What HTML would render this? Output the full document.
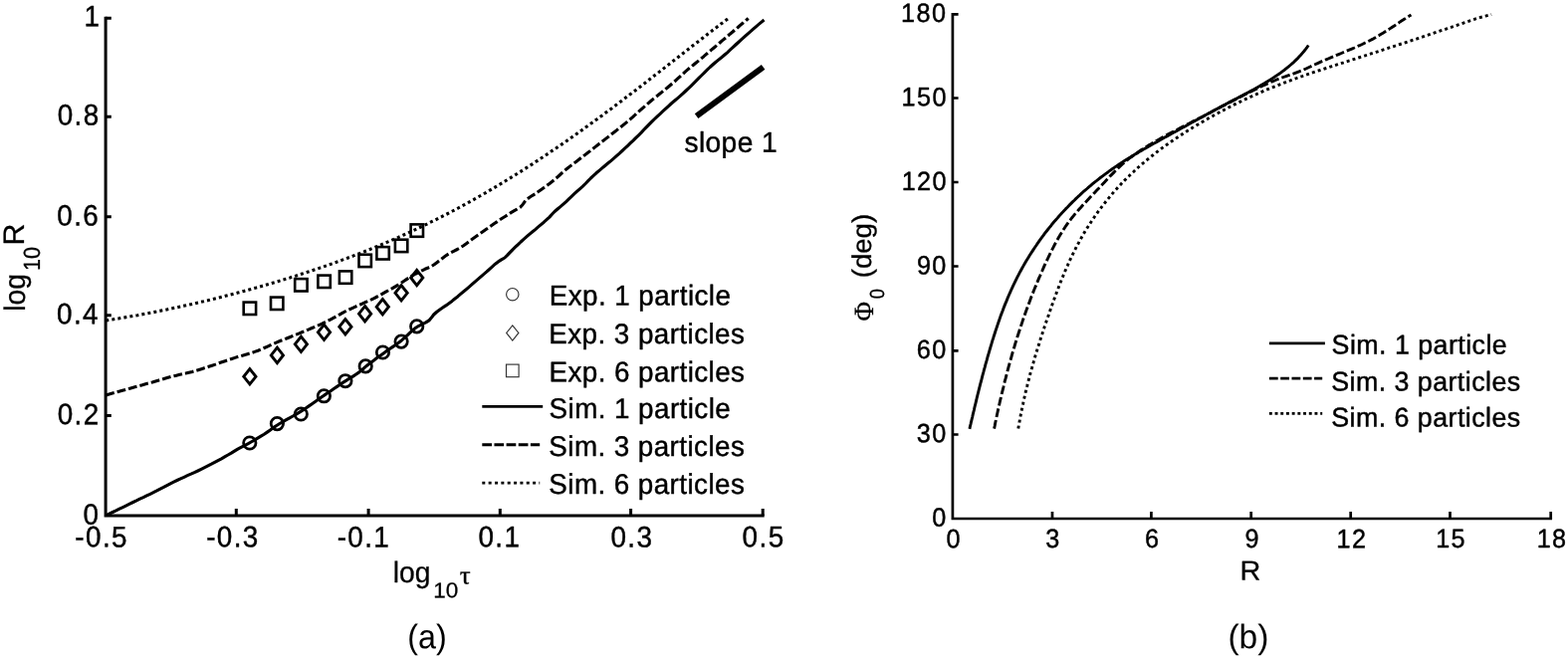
<!DOCTYPE html>
<html lang="en">
<head>
<meta charset="utf-8">
<title>Figure: log R versus log tau (a) and Phi0 versus R (b)</title>
<style>
html,body{margin:0;padding:0;background:#fff;}
body{width:1575px;height:662px;overflow:hidden;}
svg{display:block;filter:blur(0.45px);}
text{font-family:"Liberation Sans",sans-serif;fill:#000;stroke:#000;stroke-linejoin:round;text-rendering:geometricPrecision;}
text.ser{font-family:"Liberation Serif","DejaVu Serif",serif;}
.ax{stroke:#000;stroke-width:3.0;fill:none;stroke-linecap:butt;}
.cv{stroke:#000;stroke-width:3.1;fill:none;stroke-linejoin:round;}
.mk{stroke:#000;stroke-width:2.6;fill:none;stroke-linejoin:miter;}
.lm{stroke:#333;stroke-width:1.15;fill:none;}
</style>
</head>
<body>
<svg width="1575" height="662" viewBox="0 0 1575 662" role="img" aria-label="Two-panel line chart">
<rect x="0" y="0" width="1575" height="662" fill="#fff"/>
<g id="left-plot">
<path class="ax" style="stroke-width:3.0" d="M106.1,16.80 V519.60 M104.60,518.1 H767.70"/>
<path class="ax" style="stroke-width:3.0" d="M106.1,417.40 h5.7M106.1,316.80 h5.7M106.1,217.70 h5.7M106.1,117.30 h5.7M106.1,18.30 h5.7M237.30,518.1 v-7.1M370.10,518.1 v-7.1M502.30,518.1 v-7.1M633.60,518.1 v-7.1M766.20,518.1 v-7.1"/>
<path class="cv" d="M106.3,517.8 L109.7,516.2 L113.2,514.5 L116.6,512.9 L120.0,511.2 L123.4,509.6 L126.9,507.9 L130.3,506.2 L133.7,504.5 L137.1,502.9 L140.5,501.2 L144.0,499.6 L147.4,497.9 L150.8,496.3 L154.2,494.6 L157.6,492.9 L161.0,491.1 L164.4,489.4 L167.8,487.6 L171.1,485.8 L174.5,484.1 L177.9,482.5 L181.4,480.9 L184.9,479.3 L188.3,477.7 L191.8,476.2 L195.3,474.6 L198.7,473.0 L202.1,471.3 L205.5,469.6 L208.9,467.9 L212.3,466.2 L215.7,464.4 L219.0,462.6 L222.4,460.8 L225.7,458.9 L229.0,457.0 L232.3,455.1 L235.5,453.1 L238.8,451.1 L242.1,449.3 L245.5,447.6 L248.9,445.9 L252.2,444.0 L255.5,442.2 L258.8,440.2 L262.1,438.2 L265.3,436.2 L268.4,434.1 L271.5,431.9 L274.6,429.6 L277.8,427.5 L281.0,425.5 L284.3,423.6 L287.6,421.7 L290.9,419.8 L294.2,418.0 L297.5,416.1 L300.8,414.1 L304.0,412.1 L307.2,410.0 L310.3,407.9 L313.4,405.7 L316.6,403.5 L319.7,401.3 L322.8,399.1 L325.9,396.9 L329.1,394.8 L332.2,392.7 L335.3,390.5 L338.5,388.4 L341.7,386.3 L344.8,384.1 L348.0,382.1 L351.2,380.0 L354.5,378.1 L357.7,376.0 L360.8,373.9 L363.8,371.5 L366.6,368.9 L369.5,366.5 L372.5,364.2 L375.6,361.9 L378.6,359.6 L381.7,357.4 L384.8,355.2 L387.9,352.9 L391.0,350.8 L394.2,348.6 L397.3,346.4 L400.4,344.2 L403.4,341.9 L406.3,339.4 L409.1,336.8 L411.9,334.2 L414.7,331.6 L417.6,329.3 L420.8,327.3 L424.3,325.6 L427.8,323.9 L431.0,321.9 L433.4,319.1 L435.7,316.0 L438.5,313.5 L441.5,311.2 L444.7,309.0 L447.9,306.9 L451.0,304.7 L454.1,302.4 L457.0,300.0 L460.0,297.7 L462.9,295.2 L465.8,292.8 L468.7,290.3 L471.6,287.8 L474.4,285.3 L477.3,282.8 L480.2,280.3 L483.1,277.8 L486.0,275.4 L488.9,272.9 L491.7,270.3 L494.5,267.8 L497.4,265.2 L500.4,262.9 L503.6,260.9 L506.9,259.0 L509.6,256.4 L512.2,253.6 L514.9,250.8 L517.6,248.2 L520.4,245.6 L523.1,243.0 L526.0,240.4 L528.8,237.9 L531.7,235.4 L534.6,233.0 L537.6,230.6 L540.4,228.1 L543.4,225.6 L546.3,223.2 L549.1,220.7 L551.9,218.1 L554.5,215.3 L557.1,212.5 L560.0,210.0 L562.9,207.6 L565.8,205.1 L568.6,202.6 L571.4,199.9 L574.1,197.3 L576.9,194.7 L579.7,192.1 L582.6,189.6 L585.4,187.1 L588.1,184.5 L590.8,181.7 L593.4,179.0 L596.2,176.4 L599.0,173.8 L601.9,171.4 L604.8,168.9 L607.7,166.5 L610.6,164.0 L613.6,161.6 L616.5,159.1 L619.3,156.6 L622.2,154.1 L625.0,151.5 L627.8,148.9 L630.6,146.3 L633.3,143.7 L636.1,141.1 L638.8,138.4 L641.5,135.8 L644.2,133.1 L646.8,130.3 L649.4,127.6 L652.1,124.8 L654.8,122.1 L657.5,119.5 L660.3,116.9 L663.1,114.3 L665.9,111.7 L668.7,109.1 L671.5,106.6 L674.3,104.0 L677.2,101.5 L680.1,99.1 L683.0,96.6 L685.8,94.1 L688.6,91.5 L691.4,88.9 L694.1,86.3 L696.8,83.6 L699.5,80.9 L702.2,78.1 L704.9,75.5 L707.6,72.8 L710.3,70.2 L713.1,67.5 L715.9,65.0 L718.8,62.5 L721.7,60.1 L724.7,57.7 L727.6,55.3 L730.5,52.8 L733.3,50.2 L736.1,47.6 L738.9,45.0 L741.7,42.5 L744.5,39.9 L747.3,37.3 L750.1,34.8 L753.0,32.3 L755.8,29.8 L758.7,27.3 L761.6,24.9 L764.6,22.4 L767.5,20.0"/>
<path class="cv" stroke-dasharray="8.8 3.0" d="M106.3,397.0 L109.6,396.0 L113.0,395.1 L116.3,394.2 L119.6,393.2 L123.0,392.3 L126.3,391.4 L129.6,390.4 L133.0,389.5 L136.3,388.6 L139.7,387.7 L143.0,386.8 L146.3,385.8 L149.7,384.9 L153.0,384.0 L156.3,383.0 L159.7,382.0 L163.0,381.1 L166.3,380.1 L169.6,379.1 L173.0,378.2 L176.3,377.4 L179.7,376.6 L183.1,375.8 L186.5,375.1 L189.8,374.3 L193.2,373.4 L196.5,372.4 L199.8,371.4 L203.1,370.4 L206.4,369.4 L209.7,368.3 L213.0,367.2 L216.3,366.1 L219.6,364.9 L222.8,363.8 L226.1,362.7 L229.4,361.6 L232.7,360.5 L236.0,359.4 L239.3,358.3 L242.6,357.4 L245.9,356.5 L249.3,355.5 L252.6,354.5 L255.8,353.4 L259.1,352.2 L262.3,350.9 L265.5,349.5 L268.7,348.1 L271.8,346.7 L275.0,345.2 L278.1,343.9 L281.3,342.5 L284.6,341.3 L287.8,340.0 L291.0,338.7 L294.2,337.4 L297.4,336.1 L300.6,334.9 L303.8,333.5 L307.0,332.2 L310.2,330.9 L313.4,329.5 L316.6,328.2 L319.8,326.8 L323.0,325.4 L326.1,323.9 L329.2,322.4 L332.3,320.8 L335.3,319.2 L338.4,317.5 L341.4,315.8 L344.4,314.2 L347.5,312.5 L350.6,311.0 L353.8,309.6 L356.9,308.2 L360.1,306.8 L363.3,305.3 L366.4,303.9 L369.6,302.5 L372.7,301.1 L375.8,299.6 L378.9,298.0 L382.0,296.3 L385.0,294.6 L388.0,292.9 L391.0,291.3 L394.1,289.6 L397.1,287.8 L400.0,286.1 L403.0,284.2 L405.9,282.3 L408.7,280.4 L411.7,278.5 L414.6,276.7 L417.6,275.0 L420.7,273.4 L423.8,271.8 L426.9,270.3 L430.1,269.0 L433.2,267.6 L436.1,265.8 L438.9,263.7 L441.7,261.6 L444.4,259.4 L447.2,257.3 L450.1,255.4 L453.1,253.7 L456.2,252.1 L459.3,250.5 L462.3,248.8 L465.2,247.0 L468.0,245.0 L470.8,242.9 L473.6,240.8 L476.4,238.8 L479.2,236.8 L482.1,234.8 L484.9,232.8 L487.7,230.8 L490.6,228.9 L493.4,226.8 L496.2,224.8 L499.1,222.9 L501.9,220.9 L504.8,219.0 L507.7,217.2 L510.7,215.3 L513.6,213.4 L516.6,211.7 L519.7,209.9 L522.6,208.1 L524.9,205.7 L526.9,202.8 L529.2,200.2 L531.9,198.2 L534.9,196.3 L537.9,194.5 L540.7,192.5 L543.6,190.5 L546.4,188.5 L549.2,186.5 L552.0,184.4 L554.7,182.3 L557.4,180.1 L560.0,177.8 L562.6,175.5 L565.1,173.2 L567.7,170.9 L570.4,168.7 L573.1,166.6 L575.9,164.5 L578.7,162.4 L581.5,160.3 L584.2,158.2 L586.9,156.1 L589.7,154.0 L592.4,151.9 L595.2,149.7 L597.9,147.6 L600.6,145.5 L603.4,143.3 L606.1,141.2 L608.8,139.1 L611.6,137.0 L614.3,134.8 L617.0,132.7 L619.7,130.6 L622.5,128.4 L625.2,126.3 L627.9,124.1 L630.5,121.9 L633.2,119.6 L635.8,117.4 L638.3,115.0 L640.9,112.7 L643.5,110.4 L646.1,108.1 L648.7,105.8 L651.3,103.6 L654.0,101.3 L656.6,99.1 L659.3,97.0 L662.0,94.8 L664.7,92.6 L667.4,90.4 L670.1,88.3 L672.8,86.0 L675.4,83.8 L678.0,81.5 L680.5,79.2 L683.1,76.8 L685.7,74.5 L688.2,72.1 L690.8,69.9 L693.5,67.7 L696.2,65.5 L698.9,63.3 L701.6,61.1 L704.2,58.9 L706.9,56.7 L709.5,54.4 L712.1,52.2 L714.8,49.9 L717.4,47.7 L720.1,45.4 L722.7,43.2 L725.3,40.9 L728.0,38.7 L730.6,36.5 L733.2,34.2 L735.9,32.0 L738.5,29.7 L741.2,27.5 L743.8,25.2 L746.4,23.0 L749.1,20.7 L751.7,18.5"/>
<path class="cv" stroke-dasharray="3.0 3.1" stroke-dashoffset="0" d="M106.3,322.0 L109.5,321.5 L112.7,321.0 L115.8,320.5 L119.0,320.0 L122.2,319.4 L125.4,318.9 L128.5,318.4 L131.7,317.8 L134.9,317.2 L138.1,316.7 L141.2,316.1 L144.4,315.5 L147.6,314.9 L150.7,314.3 L153.9,313.7 L157.1,313.1 L160.2,312.4 L163.4,311.8 L166.5,311.2 L169.7,310.5 L172.9,309.8 L176.0,309.2 L179.2,308.5 L182.3,307.8 L185.5,307.1 L188.6,306.4 L191.8,305.7 L194.9,305.0 L198.1,304.2 L201.2,303.5 L204.3,302.8 L207.5,302.0 L210.6,301.3 L213.8,300.5 L216.9,299.7 L220.0,298.9 L223.2,298.1 L226.3,297.3 L229.4,296.5 L232.5,295.7 L235.6,294.9 L238.8,294.1 L241.9,293.3 L245.0,292.4 L248.1,291.6 L251.2,290.7 L254.3,289.8 L257.4,289.0 L260.5,288.1 L263.6,287.2 L266.7,286.3 L269.8,285.4 L272.9,284.5 L276.0,283.6 L279.1,282.7 L282.1,281.7 L285.2,280.8 L288.3,279.8 L291.4,278.9 L294.4,277.9 L297.5,277.0 L300.6,276.0 L303.6,275.0 L306.7,274.0 L309.7,273.0 L312.8,272.0 L315.8,271.0 L318.9,270.0 L321.9,268.9 L325.0,267.9 L328.0,266.8 L331.0,265.8 L334.1,264.7 L337.1,263.6 L340.1,262.5 L343.1,261.4 L346.1,260.3 L349.1,259.2 L352.1,258.1 L355.1,256.9 L358.1,255.8 L361.1,254.6 L364.1,253.5 L367.1,252.3 L370.1,251.1 L373.1,249.9 L376.0,248.7 L379.0,247.5 L382.0,246.2 L384.9,245.0 L387.9,243.7 L390.8,242.5 L393.8,241.2 L396.7,239.9 L399.7,238.6 L402.6,237.3 L405.5,236.0 L408.5,234.6 L411.4,233.3 L414.3,232.0 L417.2,230.6 L420.1,229.2 L423.0,227.8 L425.9,226.5 L428.8,225.1 L431.7,223.6 L434.6,222.2 L437.5,220.8 L440.3,219.3 L443.2,217.9 L446.1,216.4 L448.9,215.0 L451.8,213.5 L454.6,212.0 L457.5,210.5 L460.3,209.0 L463.1,207.5 L466.0,205.9 L468.8,204.4 L471.6,202.8 L474.4,201.3 L477.2,199.7 L480.0,198.1 L482.8,196.5 L485.6,194.9 L488.4,193.3 L491.2,191.7 L493.9,190.1 L496.7,188.4 L499.5,186.8 L502.2,185.1 L505.0,183.5 L507.7,181.8 L510.5,180.1 L513.2,178.4 L515.9,176.7 L518.7,175.0 L521.4,173.3 L524.1,171.6 L526.8,169.9 L529.5,168.1 L532.3,166.4 L535.0,164.6 L537.7,162.9 L540.3,161.1 L543.0,159.3 L545.7,157.5 L548.4,155.7 L551.1,153.9 L553.7,152.1 L556.4,150.3 L559.1,148.5 L561.7,146.7 L564.4,144.9 L567.1,143.0 L569.7,141.2 L572.3,139.3 L575.0,137.5 L577.6,135.6 L580.3,133.7 L582.9,131.9 L585.5,130.0 L588.1,128.1 L590.8,126.2 L593.4,124.3 L596.0,122.4 L598.6,120.5 L601.2,118.6 L603.8,116.7 L606.4,114.8 L609.0,112.8 L611.6,110.9 L614.2,109.0 L616.8,107.0 L619.4,105.1 L622.0,103.1 L624.6,101.2 L627.1,99.2 L629.7,97.3 L632.3,95.3 L634.9,93.3 L637.4,91.4 L640.0,89.4 L642.6,87.4 L645.1,85.4 L647.7,83.5 L650.3,81.5 L652.8,79.5 L655.4,77.5 L657.9,75.5 L660.5,73.6 L663.0,71.6 L665.6,69.6 L668.1,67.6 L670.7,65.6 L673.2,63.6 L675.8,61.6 L678.3,59.7 L680.8,57.7 L683.4,55.7 L685.9,53.7 L688.5,51.7 L691.0,49.8 L693.5,47.8 L696.0,45.8 L698.6,43.8 L701.1,41.9 L703.6,39.9 L706.2,37.9 L708.7,36.0 L711.2,34.0 L713.7,32.1 L716.3,30.1 L718.8,28.2 L721.3,26.3 L723.8,24.3 L726.4,22.4 L728.9,20.5 L731.4,18.6"/>
<circle class="mk" style="stroke-width:2.75" cx="250.8" cy="445.0" r="6.2"/>
<circle class="mk" style="stroke-width:2.75" cx="278.4" cy="425.6" r="6.2"/>
<circle class="mk" style="stroke-width:2.75" cx="302.3" cy="416" r="6.2"/>
<circle class="mk" style="stroke-width:2.75" cx="325.4" cy="397.8" r="6.2"/>
<circle class="mk" style="stroke-width:2.75" cx="346.9" cy="382.7" r="6.2"/>
<circle class="mk" style="stroke-width:2.75" cx="367.2" cy="367.9" r="6.2"/>
<circle class="mk" style="stroke-width:2.75" cx="384.5" cy="354.0" r="6.2"/>
<circle class="mk" style="stroke-width:2.75" cx="403.1" cy="343.1" r="6.2"/>
<circle class="mk" style="stroke-width:2.75" cx="418.7" cy="327.9" r="6.2"/>
<path class="mk" style="stroke-width:2.9" d="M250.9,370.6 l6.1,7.7 l-6.1,7.7 l-6.1,-7.7 z"/>
<path class="mk" style="stroke-width:2.9" d="M278.4,349.2 l6.1,7.7 l-6.1,7.7 l-6.1,-7.7 z"/>
<path class="mk" style="stroke-width:2.9" d="M302.4,338.1 l6.1,7.7 l-6.1,7.7 l-6.1,-7.7 z"/>
<path class="mk" style="stroke-width:2.9" d="M325.5,326.1 l6.1,7.7 l-6.1,7.7 l-6.1,-7.7 z"/>
<path class="mk" style="stroke-width:2.9" d="M346.9,320.6 l6.1,7.7 l-6.1,7.7 l-6.1,-7.7 z"/>
<path class="mk" style="stroke-width:2.9" d="M366.6,307.5 l6.1,7.7 l-6.1,7.7 l-6.1,-7.7 z"/>
<path class="mk" style="stroke-width:2.9" d="M384.3,300.5 l6.1,7.7 l-6.1,7.7 l-6.1,-7.7 z"/>
<path class="mk" style="stroke-width:2.9" d="M403.1,286.6 l6.1,7.7 l-6.1,7.7 l-6.1,-7.7 z"/>
<path class="mk" style="stroke-width:2.9" d="M418.7,271.3 l6.1,7.7 l-6.1,7.7 l-6.1,-7.7 z"/>
<rect class="mk" x="244.7" y="303.6" width="12.4" height="12.4"/>
<rect class="mk" x="272.0" y="298.6" width="12.4" height="12.4"/>
<rect class="mk" x="296.2" y="280.1" width="12.4" height="12.4"/>
<rect class="mk" x="319.4" y="276.6" width="12.4" height="12.4"/>
<rect class="mk" x="340.9" y="272.4" width="12.4" height="12.4"/>
<rect class="mk" x="360.5" y="255.7" width="12.4" height="12.4"/>
<rect class="mk" x="378.4" y="248.1" width="12.4" height="12.4"/>
<rect class="mk" x="396.9" y="240.7" width="12.4" height="12.4"/>
<rect class="mk" x="412.6" y="225.4" width="12.4" height="12.4"/>
<path d="M699.6,116.6 L766.6,67.3" stroke="#000" stroke-width="6.0" fill="none"/>
<circle class="lm" cx="514.8" cy="295.7" r="6.2"/>
<path class="lm" d="M514.8,326.8 l6.1,7.6 l-6.1,7.6 l-6.1,-7.6 z"/>
<rect class="lm" x="508.5" y="366.1" width="12.6" height="12.6"/>
<path class="cv" style="stroke-width:2.9" d="M484.3,408.4 H545.2"/>
<path class="cv" style="stroke-width:2.9" stroke-dasharray="9.7 2.45" d="M484.3,446.8 H542.2"/>
<path class="cv" style="stroke-width:2.9" stroke-dasharray="3.0 3.35" d="M484.3,485.1 H542.2"/>
</g>
<g id="right-plot">
<path class="ax" style="stroke-width:2.7" d="M956.9,13.05 V522.35 M955.55,521.0 H1559.05"/>
<path class="ax" style="stroke-width:2.7" d="M956.9,436.50 h5.7M956.9,352.30 h5.7M956.9,267.50 h5.7M956.9,183.00 h5.7M956.9,98.50 h5.7M956.9,14.40 h5.7M1057.00,521.0 v-7.1M1156.40,521.0 v-7.1M1256.70,521.0 v-7.1M1356.70,521.0 v-7.1M1456.50,521.0 v-7.1M1557.70,521.0 v-7.1"/>
<path class="cv" style="stroke-width:2.9" d="M973.9,430.9 L974.4,428.5 L975.0,426.1 L975.5,423.8 L976.1,421.4 L976.7,419.0 L977.2,416.6 L977.8,414.2 L978.4,411.8 L978.9,409.4 L979.5,407.0 L980.1,404.6 L980.7,402.2 L981.2,399.8 L981.8,397.4 L982.4,395.0 L983.0,392.6 L983.6,390.2 L984.2,387.8 L984.8,385.4 L985.5,383.0 L986.1,380.6 L986.7,378.2 L987.3,375.8 L988.0,373.4 L988.6,371.0 L989.3,368.6 L989.9,366.2 L990.6,363.8 L991.3,361.4 L991.9,359.0 L992.6,356.6 L993.3,354.3 L994.0,351.9 L994.7,349.5 L995.4,347.1 L996.1,344.8 L996.8,342.4 L997.6,340.0 L998.3,337.7 L999.1,335.3 L999.8,333.0 L1000.6,330.6 L1001.4,328.3 L1002.2,325.9 L1003.0,323.6 L1003.8,321.3 L1004.6,318.9 L1005.4,316.6 L1006.3,314.3 L1007.2,312.0 L1008.0,309.7 L1008.9,307.4 L1009.8,305.1 L1010.8,302.8 L1011.7,300.6 L1012.6,298.3 L1013.6,296.0 L1014.6,293.8 L1015.6,291.5 L1016.6,289.3 L1017.6,287.1 L1018.7,284.9 L1019.8,282.6 L1020.9,280.4 L1022.0,278.2 L1023.1,276.1 L1024.2,273.9 L1025.4,271.7 L1026.6,269.5 L1027.8,267.4 L1029.0,265.3 L1030.3,263.1 L1031.5,261.0 L1032.8,258.9 L1034.1,256.8 L1035.4,254.7 L1036.8,252.6 L1038.1,250.6 L1039.5,248.5 L1040.9,246.5 L1042.3,244.4 L1043.7,242.4 L1045.1,240.4 L1046.6,238.4 L1048.1,236.4 L1049.5,234.4 L1051.0,232.5 L1052.6,230.5 L1054.1,228.6 L1055.7,226.7 L1057.2,224.7 L1058.8,222.8 L1060.4,221.0 L1062.1,219.1 L1063.7,217.2 L1065.3,215.4 L1067.0,213.6 L1068.7,211.7 L1070.4,209.9 L1072.1,208.2 L1073.8,206.4 L1075.6,204.6 L1077.3,202.9 L1079.1,201.2 L1080.9,199.4 L1082.7,197.7 L1084.5,196.1 L1086.3,194.4 L1088.1,192.7 L1090.0,191.1 L1091.9,189.5 L1093.7,187.9 L1095.6,186.3 L1097.5,184.7 L1099.4,183.1 L1101.4,181.6 L1103.3,180.1 L1105.3,178.5 L1107.2,177.1 L1109.2,175.6 L1111.2,174.1 L1113.2,172.7 L1115.2,171.2 L1117.2,169.8 L1119.2,168.4 L1121.3,167.0 L1123.3,165.6 L1125.4,164.3 L1127.4,162.9 L1129.5,161.6 L1131.6,160.3 L1133.7,159.0 L1135.8,157.7 L1137.9,156.4 L1140.0,155.1 L1142.1,153.9 L1144.2,152.6 L1146.3,151.4 L1148.5,150.1 L1150.6,148.9 L1152.7,147.7 L1154.9,146.5 L1157.0,145.3 L1159.2,144.1 L1161.3,142.9 L1163.5,141.7 L1165.6,140.5 L1167.8,139.3 L1169.9,138.1 L1172.1,136.9 L1174.3,135.7 L1176.4,134.5 L1178.6,133.3 L1180.7,132.2 L1182.9,131.0 L1185.1,129.8 L1187.2,128.6 L1189.4,127.4 L1191.6,126.2 L1193.7,125.0 L1195.9,123.8 L1198.1,122.6 L1200.2,121.4 L1202.4,120.3 L1204.6,119.1 L1206.8,117.9 L1208.9,116.7 L1211.1,115.5 L1213.3,114.3 L1215.5,113.2 L1217.6,112.0 L1219.8,110.8 L1222.0,109.6 L1224.2,108.5 L1226.4,107.3 L1228.5,106.1 L1230.7,105.0 L1232.9,103.8 L1235.1,102.6 L1237.3,101.5 L1239.5,100.3 L1241.7,99.2 L1243.9,98.0 L1246.1,96.9 L1248.3,95.7 L1250.4,94.6 L1252.6,93.4 L1254.8,92.2 L1257.0,91.1 L1259.2,89.9 L1261.3,88.7 L1263.5,87.5 L1265.6,86.3 L1267.7,85.0 L1269.9,83.8 L1272.0,82.5 L1274.1,81.2 L1276.2,79.9 L1278.2,78.6 L1280.3,77.3 L1282.3,75.9 L1284.4,74.5 L1286.4,73.1 L1288.3,71.6 L1290.3,70.2 L1292.2,68.6 L1294.1,67.1 L1296.0,65.5 L1297.9,63.9 L1299.7,62.3 L1301.4,60.6 L1303.2,58.9 L1304.9,57.1 L1306.6,55.3 L1308.2,53.4 L1309.8,51.5 L1311.3,49.6 L1312.8,47.6 L1314.3,45.5"/>
<path class="cv" style="stroke-width:2.9" stroke-dasharray="8.8 3.0" d="M998.6,430.6 L999.2,427.8 L999.7,425.0 L1000.3,422.2 L1000.9,419.3 L1001.5,416.5 L1002.1,413.7 L1002.7,410.9 L1003.4,408.1 L1004.0,405.3 L1004.6,402.5 L1005.3,399.7 L1005.9,396.9 L1006.6,394.1 L1007.3,391.3 L1008.0,388.5 L1008.6,385.7 L1009.3,382.9 L1010.1,380.2 L1010.8,377.4 L1011.5,374.6 L1012.2,371.8 L1013.0,369.0 L1013.7,366.3 L1014.5,363.5 L1015.3,360.7 L1016.1,358.0 L1016.8,355.2 L1017.7,352.5 L1018.5,349.7 L1019.3,347.0 L1020.1,344.2 L1021.0,341.5 L1021.8,338.7 L1022.7,336.0 L1023.6,333.3 L1024.5,330.5 L1025.4,327.8 L1026.3,325.1 L1027.2,322.4 L1028.1,319.6 L1029.1,316.9 L1030.0,314.2 L1031.0,311.5 L1032.0,308.8 L1033.0,306.1 L1034.0,303.4 L1035.0,300.7 L1036.0,298.1 L1037.1,295.4 L1038.1,292.7 L1039.2,290.0 L1040.3,287.4 L1041.4,284.7 L1042.5,282.1 L1043.6,279.4 L1044.8,276.8 L1045.9,274.1 L1047.1,271.5 L1048.2,268.9 L1049.4,266.2 L1050.6,263.6 L1051.9,261.0 L1053.1,258.4 L1054.3,255.8 L1055.6,253.2 L1056.9,250.6 L1058.2,248.1 L1059.5,245.5 L1060.9,243.0 L1062.3,240.5 L1063.7,238.0 L1065.2,235.5 L1066.7,233.1 L1068.2,230.7 L1069.8,228.3 L1071.4,225.9 L1073.1,223.6 L1074.8,221.3 L1076.5,219.0 L1078.3,216.8 L1080.1,214.6 L1082.0,212.5 L1083.9,210.3 L1085.8,208.2 L1087.7,206.0 L1089.7,203.9 L1091.7,201.8 L1093.6,199.7 L1095.6,197.6 L1097.6,195.5 L1099.6,193.4 L1101.6,191.3 L1103.6,189.2 L1105.5,187.1 L1107.5,185.0 L1109.5,182.9 L1111.5,180.8 L1113.4,178.7 L1115.4,176.6 L1117.4,174.6 L1119.4,172.6 L1121.4,170.5 L1123.4,168.6 L1125.5,166.6 L1127.6,164.7 L1129.7,162.9 L1131.9,161.0 L1134.2,159.2 L1136.5,157.5 L1138.9,155.7 L1141.3,154.1 L1143.7,152.4 L1146.1,150.8 L1148.6,149.2 L1151.0,147.7 L1153.5,146.1 L1156.0,144.7 L1158.4,143.2 L1160.9,141.8 L1163.4,140.4 L1165.9,139.0 L1168.4,137.6 L1170.9,136.2 L1173.4,134.9 L1175.9,133.6 L1178.4,132.3 L1180.9,131.0 L1183.4,129.7 L1185.9,128.4 L1188.4,127.1 L1190.9,125.8 L1193.5,124.5 L1196.0,123.2 L1198.5,121.9 L1201.1,120.6 L1203.6,119.3 L1206.1,118.0 L1208.7,116.7 L1211.2,115.3 L1213.8,114.0 L1216.3,112.7 L1218.9,111.3 L1221.5,110.0 L1224.0,108.6 L1226.6,107.3 L1229.2,106.0 L1231.7,104.6 L1234.3,103.3 L1236.9,101.9 L1239.5,100.6 L1242.1,99.3 L1244.7,98.0 L1247.2,96.6 L1249.8,95.3 L1252.4,94.0 L1255.0,92.7 L1257.6,91.4 L1260.3,90.1 L1262.9,88.9 L1265.5,87.6 L1268.1,86.3 L1270.7,85.1 L1273.3,83.9 L1275.9,82.7 L1278.6,81.6 L1281.2,80.5 L1283.8,79.4 L1286.5,78.4 L1289.1,77.5 L1291.7,76.6 L1294.4,75.7 L1297.0,74.8 L1299.6,73.9 L1302.3,72.9 L1304.9,71.9 L1307.6,70.9 L1310.2,69.7 L1312.9,68.5 L1315.5,67.3 L1318.2,66.0 L1320.8,64.8 L1323.5,63.6 L1326.1,62.4 L1328.8,61.2 L1331.4,60.1 L1334.1,59.0 L1336.7,57.9 L1339.4,56.8 L1342.0,55.7 L1344.6,54.6 L1347.3,53.5 L1349.9,52.4 L1352.5,51.3 L1355.2,50.2 L1357.8,49.1 L1360.4,48.0 L1363.0,46.8 L1365.6,45.7 L1368.2,44.5 L1370.8,43.2 L1373.3,42.0 L1375.9,40.7 L1378.5,39.4 L1381.0,38.0 L1383.5,36.6 L1386.0,35.1 L1388.6,33.6 L1391.0,32.0 L1393.5,30.5 L1396.0,28.9 L1398.4,27.3 L1400.9,25.7 L1403.3,24.0 L1405.7,22.4 L1408.1,20.8 L1410.5,19.3 L1412.8,17.8 L1415.2,16.3 L1417.5,15.0"/>
<path class="cv" style="stroke-width:2.9" stroke-dasharray="3.0 3.1" d="M1022.8,430.6 L1023.3,427.5 L1023.9,424.4 L1024.4,421.4 L1025.0,418.3 L1025.6,415.2 L1026.2,412.2 L1026.8,409.1 L1027.5,406.1 L1028.1,403.0 L1028.8,400.0 L1029.5,396.9 L1030.2,393.9 L1030.9,390.8 L1031.7,387.8 L1032.4,384.8 L1033.2,381.8 L1034.0,378.7 L1034.8,375.7 L1035.6,372.7 L1036.5,369.7 L1037.3,366.7 L1038.2,363.7 L1039.0,360.7 L1039.9,357.7 L1040.8,354.7 L1041.7,351.7 L1042.6,348.7 L1043.6,345.8 L1044.5,342.8 L1045.4,339.8 L1046.4,336.8 L1047.4,333.9 L1048.4,330.9 L1049.3,327.9 L1050.3,325.0 L1051.3,322.0 L1052.4,319.0 L1053.4,316.1 L1054.4,313.1 L1055.4,310.2 L1056.5,307.2 L1057.5,304.3 L1058.6,301.4 L1059.6,298.4 L1060.7,295.5 L1061.8,292.6 L1062.9,289.7 L1064.0,286.8 L1065.2,283.8 L1066.3,280.9 L1067.5,278.1 L1068.7,275.2 L1069.9,272.3 L1071.1,269.4 L1072.4,266.6 L1073.6,263.8 L1074.9,260.9 L1076.3,258.1 L1077.6,255.3 L1079.0,252.5 L1080.4,249.7 L1081.8,246.9 L1083.3,244.2 L1084.7,241.5 L1086.3,238.7 L1087.8,236.0 L1089.4,233.3 L1091.0,230.7 L1092.7,228.0 L1094.4,225.4 L1096.1,222.7 L1097.8,220.1 L1099.6,217.5 L1101.4,215.0 L1103.2,212.4 L1105.1,209.9 L1107.0,207.4 L1108.9,204.9 L1110.8,202.5 L1112.8,200.0 L1114.8,197.6 L1116.8,195.2 L1118.8,192.8 L1120.9,190.5 L1123.0,188.2 L1125.1,185.9 L1127.3,183.6 L1129.4,181.4 L1131.6,179.2 L1133.9,177.0 L1136.1,174.8 L1138.4,172.7 L1140.6,170.6 L1142.9,168.5 L1145.3,166.4 L1147.6,164.4 L1150.0,162.4 L1152.4,160.4 L1154.8,158.4 L1157.2,156.5 L1159.6,154.6 L1162.1,152.7 L1164.6,150.8 L1167.1,148.9 L1169.6,147.1 L1172.1,145.3 L1174.6,143.5 L1177.2,141.7 L1179.8,139.9 L1182.4,138.2 L1185.0,136.5 L1187.6,134.8 L1190.2,133.1 L1192.8,131.4 L1195.5,129.8 L1198.1,128.1 L1200.8,126.5 L1203.5,124.9 L1206.2,123.3 L1208.9,121.7 L1211.6,120.2 L1214.3,118.6 L1217.1,117.1 L1219.8,115.6 L1222.6,114.1 L1225.3,112.6 L1228.1,111.1 L1230.9,109.7 L1233.6,108.2 L1236.4,106.8 L1239.2,105.4 L1242.0,104.0 L1244.9,102.6 L1247.7,101.2 L1250.5,99.9 L1253.3,98.6 L1256.2,97.3 L1259.0,96.0 L1261.9,94.7 L1264.8,93.4 L1267.6,92.2 L1270.5,90.9 L1273.4,89.7 L1276.3,88.5 L1279.2,87.4 L1282.1,86.2 L1285.0,85.1 L1287.9,84.0 L1290.8,82.8 L1293.7,81.7 L1296.6,80.7 L1299.5,79.6 L1302.5,78.5 L1305.4,77.5 L1308.3,76.5 L1311.3,75.4 L1314.2,74.4 L1317.1,73.4 L1320.1,72.4 L1323.0,71.4 L1326.0,70.5 L1328.9,69.5 L1331.9,68.5 L1334.9,67.6 L1337.8,66.6 L1340.8,65.6 L1343.7,64.7 L1346.7,63.7 L1349.7,62.8 L1352.6,61.8 L1355.6,60.9 L1358.6,59.9 L1361.5,59.0 L1364.5,58.0 L1367.5,57.0 L1370.5,56.1 L1373.4,55.1 L1376.4,54.2 L1379.4,53.2 L1382.3,52.3 L1385.3,51.3 L1388.3,50.3 L1391.3,49.4 L1394.2,48.4 L1397.2,47.4 L1400.2,46.5 L1403.1,45.5 L1406.1,44.5 L1409.1,43.6 L1412.1,42.6 L1415.0,41.6 L1418.0,40.6 L1421.0,39.7 L1424.0,38.7 L1426.9,37.7 L1429.9,36.7 L1432.9,35.7 L1435.8,34.7 L1438.8,33.7 L1441.8,32.7 L1444.8,31.7 L1447.7,30.7 L1450.7,29.7 L1453.7,28.7 L1456.6,27.7 L1459.6,26.7 L1462.6,25.6 L1465.5,24.6 L1468.5,23.6 L1471.5,22.6 L1474.4,21.6 L1477.4,20.6 L1480.3,19.6 L1483.3,18.6 L1486.3,17.7 L1489.2,16.9 L1492.2,16.1 L1495.1,15.3 L1498.1,14.6"/>
<path class="cv" style="stroke-width:2.8" d="M1274.9,344.8 H1330.9"/>
<path class="cv" style="stroke-width:2.8" stroke-dasharray="8.8 2.5" d="M1274.9,380.2 H1328.2"/>
<path class="cv" style="stroke-width:2.8" stroke-dasharray="2.9 2.8" d="M1274.9,415.3 H1328.2"/>
</g>
<g id="labels">
<text id="ly0" font-size="29.6" letter-spacing="1.5" stroke-width="0.45" transform="translate(83.38,526.79) rotate(0.03) scale(0.94,1)">0</text>
<text id="ly1" font-size="29.6" letter-spacing="1.5" stroke-width="0.45" transform="translate(57.68,426.12) rotate(0.03) scale(0.94,1)">0.2</text>
<text id="ly2" font-size="29.6" letter-spacing="1.5" stroke-width="0.45" transform="translate(57.03,325.36) rotate(0.03) scale(0.94,1)">0.4</text>
<text id="ly3" font-size="29.6" letter-spacing="1.5" stroke-width="0.45" transform="translate(57.31,226.55) rotate(0.03) scale(0.94,1)">0.6</text>
<text id="ly4" font-size="29.6" letter-spacing="1.5" stroke-width="0.45" transform="translate(57.71,125.43) rotate(0.03) scale(0.94,1)">0.8</text>
<text id="ly5" font-size="29.6" letter-spacing="1.5" stroke-width="0.45" transform="translate(84.43,26.17) rotate(0.03) scale(0.94,1)">1</text>
<text id="lx0" font-size="29.6" letter-spacing="1.5" stroke-width="0.45" transform="translate(75.37,549.36) rotate(0.03) scale(0.94,1)">-0.5</text>
<text id="lx1" font-size="29.6" letter-spacing="1.5" stroke-width="0.45" transform="translate(207.13,549.35) rotate(0.03) scale(0.94,1)">-0.3</text>
<text id="lx2" font-size="29.6" letter-spacing="1.5" stroke-width="0.45" transform="translate(338.66,549.41) rotate(0.03) scale(0.94,1)">-0.1</text>
<text id="lx3" font-size="29.6" letter-spacing="1.5" stroke-width="0.45" transform="translate(480.44,549.27) rotate(0.03) scale(0.94,1)">0.1</text>
<text id="lx4" font-size="29.6" letter-spacing="1.5" stroke-width="0.45" transform="translate(613.41,549.40) rotate(0.03) scale(0.94,1)">0.3</text>
<text id="lx5" font-size="29.6" letter-spacing="1.5" stroke-width="0.45" transform="translate(745.62,549.36) rotate(0.03) scale(0.94,1)">0.5</text>
<text id="lyl_log" font-size="29.6" stroke-width="0.3" transform="translate(24.52,312.80) rotate(-90) scale(0.955,1)">log</text>
<text id="lyl_10" font-size="23.4" stroke-width="0.3" transform="translate(40.38,271.88) rotate(-90) scale(0.92,1)">10</text>
<text id="lyl_R" font-size="29.6" stroke-width="0.3" transform="translate(24.39,246.60) rotate(-90) scale(1.026,1)">R</text>
<text id="lxl_log" font-size="29.6" stroke-width="0.3" transform="translate(394.77,584.97) rotate(0.03) scale(0.955,1)">log</text>
<text id="lxl_10" font-size="21.4" stroke-width="0.3" transform="translate(435.18,600.27) rotate(0.03) scale(1.05,1)">10</text>
<text id="lxl_tau" class="ser" font-size="26.0" stroke-width="0.3" transform="translate(461.82,586.44) rotate(0.03) scale(1.045,1)">τ</text>
<text id="ll0" font-size="28.5" letter-spacing="0.45" stroke-width="0.45" transform="translate(551.71,306.50) rotate(0.03) scale(0.975,1)">Exp. 1 particle</text>
<text id="ll1" font-size="28.5" letter-spacing="0.45" stroke-width="0.45" transform="translate(551.31,344.98) rotate(0.03) scale(0.975,1)">Exp. 3 particles</text>
<text id="ll2" font-size="28.5" letter-spacing="0.45" stroke-width="0.45" transform="translate(551.47,383.23) rotate(0.03) scale(0.975,1)">Exp. 6 particles</text>
<text id="ll3" font-size="28.5" letter-spacing="0.45" stroke-width="0.45" transform="translate(551.55,420.00) rotate(0.03) scale(0.975,1)">Sim. 1 particle</text>
<text id="ll4" font-size="28.5" letter-spacing="0.45" stroke-width="0.45" transform="translate(551.29,457.91) rotate(0.03) scale(0.975,1)">Sim. 3 particles</text>
<text id="ll5" font-size="28.5" letter-spacing="0.45" stroke-width="0.45" transform="translate(551.29,495.91) rotate(0.03) scale(0.975,1)">Sim. 6 particles</text>
<text id="slope" font-size="28.8" letter-spacing="0.45" stroke-width="0.45" transform="translate(687.41,152.65) rotate(0.03) scale(0.975,1)">slope 1</text>
<text id="cap_a" font-size="34.0" stroke-width="0.0" transform="translate(409.22,651.26) rotate(0.03) scale(0.949,1)">(a)</text>
<text id="ry0" font-size="26.5" letter-spacing="1.5" stroke-width="0.45" transform="translate(936.30,528.77) rotate(0.03) scale(0.95,1)">0</text>
<text id="ry1" font-size="26.5" letter-spacing="1.5" stroke-width="0.45" transform="translate(920.71,444.33) rotate(0.03) scale(0.95,1)">30</text>
<text id="ry2" font-size="26.5" letter-spacing="1.5" stroke-width="0.45" transform="translate(920.79,360.04) rotate(0.03) scale(0.95,1)">60</text>
<text id="ry3" font-size="26.5" letter-spacing="1.5" stroke-width="0.45" transform="translate(920.88,275.38) rotate(0.03) scale(0.95,1)">90</text>
<text id="ry4" font-size="26.5" letter-spacing="1.5" stroke-width="0.45" transform="translate(905.66,191.01) rotate(0.03) scale(0.95,1)">120</text>
<text id="ry5" font-size="26.5" letter-spacing="1.5" stroke-width="0.45" transform="translate(905.53,106.36) rotate(0.03) scale(0.95,1)">150</text>
<text id="ry6" font-size="26.5" letter-spacing="1.5" stroke-width="0.45" transform="translate(905.10,22.05) rotate(0.03) scale(0.95,1)">180</text>
<text id="rx0" font-size="26.5" letter-spacing="1.5" stroke-width="0.45" transform="translate(950.58,550.17) rotate(0.03) scale(0.95,1)">0</text>
<text id="rx1" font-size="26.5" letter-spacing="1.5" stroke-width="0.45" transform="translate(1050.26,550.09) rotate(0.03) scale(0.95,1)">3</text>
<text id="rx2" font-size="26.5" letter-spacing="1.5" stroke-width="0.45" transform="translate(1150.11,550.12) rotate(0.03) scale(0.95,1)">6</text>
<text id="rx3" font-size="26.5" letter-spacing="1.5" stroke-width="0.45" transform="translate(1250.58,550.09) rotate(0.03) scale(0.95,1)">9</text>
<text id="rx4" font-size="26.5" letter-spacing="1.5" stroke-width="0.45" transform="translate(1342.55,550.26) rotate(0.03) scale(0.95,1)">12</text>
<text id="rx5" font-size="26.5" letter-spacing="1.5" stroke-width="0.45" transform="translate(1442.19,550.01) rotate(0.03) scale(0.95,1)">15</text>
<text id="rx6" font-size="26.5" letter-spacing="1.5" stroke-width="0.45" transform="translate(1543.63,550.11) rotate(0.03) scale(0.95,1)">18</text>
<text id="ryl_phi" class="ser" font-size="27.9" stroke-width="0.3" transform="translate(877.46,322.45) rotate(-90) scale(0.955,1)">Φ</text>
<text id="ryl_0" font-size="20.5" stroke-width="0.3" transform="translate(888.28,300.33) rotate(-90) scale(0.89,1)">0</text>
<text id="ryl_deg" font-size="27.2" stroke-width="0.3" transform="translate(875.45,279.31) rotate(-90) scale(1.015,1)">(deg)</text>
<text id="rxl_R" font-size="27.2" stroke-width="0.3" transform="translate(1245.60,582.60) rotate(0.03) scale(1.06,1)">R</text>
<text id="rl0" font-size="27.2" letter-spacing="0.47" stroke-width="0.45" transform="translate(1337.60,355.41) rotate(0.03) scale(0.985,1)">Sim. 1 particle</text>
<text id="rl1" font-size="27.2" letter-spacing="0.47" stroke-width="0.45" transform="translate(1337.20,392.38) rotate(0.03) scale(0.985,1)">Sim. 3 particles</text>
<text id="rl2" font-size="27.2" letter-spacing="0.47" stroke-width="0.45" transform="translate(1337.22,428.42) rotate(0.03) scale(0.985,1)">Sim. 6 particles</text>
<text id="cap_b" font-size="34.0" stroke-width="0.0" transform="translate(1233.40,651.29) rotate(0.03) scale(0.986,1)">(b)</text>
</g>
</svg>
</body>
</html>
